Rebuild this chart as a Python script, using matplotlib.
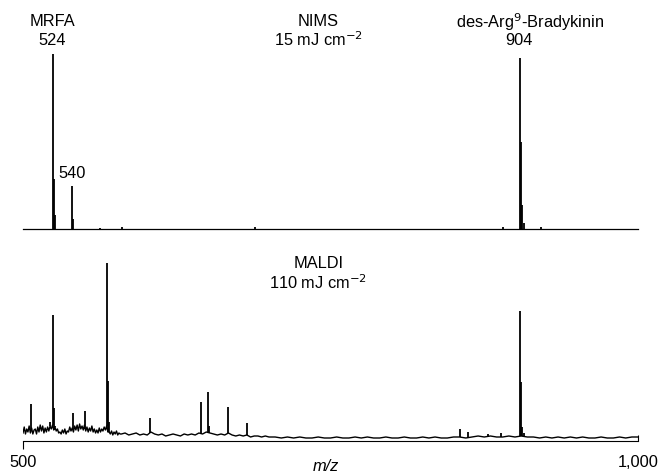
import numpy as np
import matplotlib
matplotlib.use("Agg")
import matplotlib.pyplot as plt
import matplotlib.lines as mlines

plt.rcParams['font.family'] = ['Liberation Sans', 'DejaVu Sans']

# NIMS spectrum (top): peak positions (m/z) and heights (arb. units)
nims_mz = [524, 525, 526, 540, 541, 563, 580.5, 689, 890, 904, 905, 906, 907, 921]
nims_int = [175, 50, 14, 43, 10, 1.5, 2.5, 2, 2, 171, 87, 24, 6, 2]
nims_base_mz = [500, 1000]
nims_base_int = [0, 0]

# MALDI spectrum (bottom): baseline
maldi_base_mz = (list(range(500, 580)) + list(range(580, 700, 3))
                 + list(range(700, 1001, 5)))
maldi_base_int = [
    8, 14, 7, 12, 9, 15, 8, 13, 7, 11,
    12, 7, 14, 9, 16, 10, 15, 8, 13, 9,
    14, 10, 15, 12, 16, 11, 14, 10, 12, 8,
    9, 7, 11, 8, 12, 7, 10, 9, 14, 10,
    13, 9, 15, 11, 16, 10, 17, 12, 15, 11,
    16, 10, 14, 9, 13, 10, 15, 9, 12, 8,
    11, 8, 13, 9, 12, 10, 14, 11, 15, 9,
    9, 7, 10, 6, 9, 7, 10, 6, 8, 7,
    7, 8, 6, 7, 8, 6, 7, 6, 9, 7,
    6, 7, 5, 6, 7, 6, 5, 7, 6, 7,
    6, 8, 7, 9, 8, 7, 6, 7, 6, 8,
    6, 5, 6, 5, 6, 4, 5, 5, 4, 5,
    4, 4, 3, 4, 3, 4, 3, 3, 4, 3,
    3, 4, 3, 3, 4, 3, 4, 3, 3, 4,
    3, 3, 4, 3, 3, 4, 3, 4, 3, 3,
    4, 4, 3, 4, 5, 4, 5, 4, 4, 5,
    4, 5, 4, 4, 3, 4, 3, 4, 3, 4,
    3, 4, 3, 3, 4, 3, 3, 4, 3, 4,
    4,
]
maldi_mz = [506.5, 522, 524, 525, 526, 540.6, 550.6, 568, 569, 570, 603,
            644.5, 650.6, 651.5, 666.7, 682, 855, 862, 878, 889,
            904, 905, 906, 907]
maldi_int = [37, 19, 126, 33, 15, 28, 30, 178, 60, 19, 23,
             39, 49, 15, 34, 18, 12, 9, 7, 8,
             130, 59, 14, 8]

xticks = [500, 1000]
xtick_labels = ['500', '1,000']

W, H = 658, 473
fig = plt.figure(figsize=(W / 100, H / 100), dpi=100)
left = 23 / W
width = 615 / W

ft = {'fontsize': 11.8}

# ---- top: NIMS
ax1 = fig.add_axes([left, (H - 229) / H, width, 200 / H])
ax1.set_xlim(500, 1000)
ax1.set_ylim(0, 200)
ax1.axis('off')
ax1.plot(nims_base_mz, nims_base_int, color='black', lw=0.9, clip_on=False)
ax1.vlines(nims_mz, 0, nims_int, color='black', lw=1.3, clip_on=False)

ax1.text(524, 207, 'MRFA', ha='center', va='center', clip_on=False, **ft)
ax1.text(524, 189, '524', ha='center', va='center', clip_on=False, **ft)
ax1.text(539.8, 56, '540', ha='center', va='center', **ft)
ax1.text(740, 207, 'NIMS', ha='center', va='center', clip_on=False, **ft)
ax1.text(740, 189, r'15 mJ cm$^{-2}$', ha='center', va='center', clip_on=False, **ft)
ax1.text(912, 207, r'des-Arg$^{9}$-Bradykinin', ha='center', va='center',
         clip_on=False, **ft)
ax1.text(903, 189, '904', ha='center', va='center', clip_on=False, **ft)

# ---- bottom: MALDI
ax2 = fig.add_axes([left, (H - 441) / H, width, 200 / H])
ax2.set_xlim(500, 1000)
ax2.set_ylim(0, 200)
for s in ['top', 'left', 'right']:
    ax2.spines[s].set_visible(False)
ax2.spines['bottom'].set_linewidth(0.8)
ax2.set_yticks([])
ax2.plot(maldi_base_mz, maldi_base_int, color='black', lw=1.0)
base_under = np.interp(maldi_mz, maldi_base_mz, maldi_base_int)
ax2.vlines(maldi_mz, base_under, maldi_int, color='black', lw=1.3)

ax2.set_xticks(xticks)
ax2.set_xticklabels(xtick_labels, **ft)
ax2.tick_params(axis='x', direction='out', length=6, width=0.8, pad=4)
ax2.xaxis.get_major_ticks()[1].tick1line.set_marker(mlines.TICKUP)
ax2.xaxis.get_major_ticks()[1].tick1line.set_markersize(4)

ax2.set_xlabel('m/z', style='italic', **ft)
ax2.xaxis.set_label_coords(0.493, -0.088)

ax2.text(740, 178, 'MALDI', ha='center', va='center', **ft)
ax2.text(740, 158, r'110 mJ cm$^{-2}$', ha='center', va='center', **ft)

fig.savefig('out.png', dpi=100)
